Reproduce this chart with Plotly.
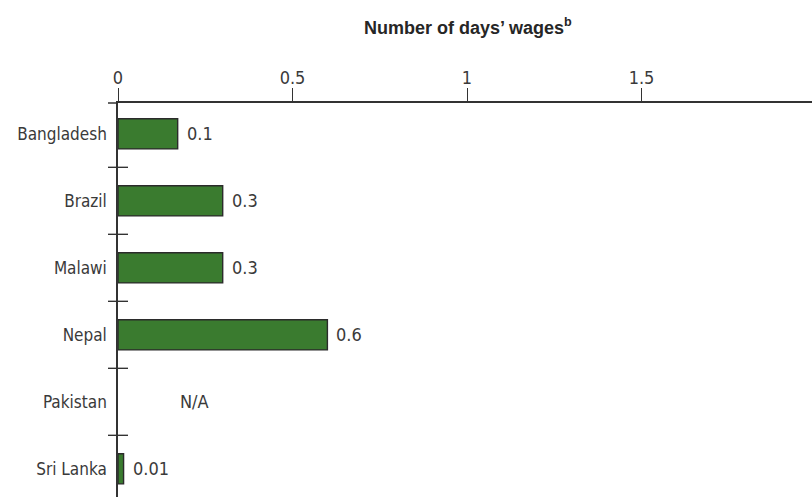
import plotly.graph_objects as go

countries = ["Bangladesh", "Brazil", "Malawi", "Nepal", "Pakistan", "Sri Lanka"]
days_wages = [0.171, 0.3, 0.3, 0.6, None, 0.016]
value_labels = ["0.1", "0.3", "0.3", "0.6", "N/A", "0.01"]
x_ticks = [0, 0.5, 1, 1.5, 2]
x_tick_labels = ["0", "0.5", "1", "1.5", "2"]

FONT = "DejaVu Sans Condensed, Liberation Sans Narrow, sans-serif"
TXT = "#3a3a3a"
LINE = "#333333"

fig = go.Figure()
fig.add_trace(go.Bar(
    y=countries, x=days_wages, orientation="h", width=0.45,
    marker=dict(color="#3a7b2f", line=dict(color="#2b2b2b", width=1.4)),
    hoverinfo="skip", showlegend=False,
))

annotations = []
for c, v, lab in zip(countries, days_wages, value_labels):
    if v is None:
        annotations.append(dict(x=0, y=c, xref="x", yref="y", text=lab, showarrow=False,
                                xanchor="center", xshift=76,
                                font=dict(family=FONT, size=18, color=TXT)))
    else:
        annotations.append(dict(x=v, y=c, xref="x", yref="y", text=lab, showarrow=False,
                                xanchor="left", xshift=7,
                                font=dict(family=FONT, size=18, color=TXT)))

annotations.append(dict(x=0.5, y=1, xref="paper", yref="paper", yshift=77, xshift=1,
                        yanchor="middle",
                        text="<b>Number of days’ wages<sup>b</sup></b>", showarrow=False,
                        font=dict(family="Liberation Sans, Arial, sans-serif", size=18, color="#262626")))

shapes = []
for i in range(1, len(countries)):
    shapes.append(dict(type="line", xref="paper", yref="y", xsizemode="pixel", xanchor=0,
                       x0=-10, x1=10, y0=i - 0.5, y1=i - 0.5,
                       line=dict(color=LINE, width=1.4)))
shapes.append(dict(type="line", xref="paper", yref="paper", xsizemode="pixel", xanchor=0,
                   x0=-10, x1=0, y0=1, y1=1, line=dict(color=LINE, width=1.5)))

fig.update_layout(
    width=816, height=505,
    margin=dict(l=118, r=0, t=103, b=0),
    plot_bgcolor="white", paper_bgcolor="white",
    font=dict(family=FONT, size=18, color=TXT),
    annotations=annotations, shapes=shapes,
    xaxis=dict(side="top", range=[0, 2], tickvals=x_ticks, ticktext=x_tick_labels,
               ticks="outside", ticklen=13, tickwidth=1.3, tickcolor=LINE,
               showline=True, linecolor=LINE, linewidth=1.5,
               showgrid=False, zeroline=False, ticklabelstandoff=-3,
               tickfont=dict(family=FONT, size=18, color=TXT)),
    yaxis=dict(type="category", categoryorder="array", categoryarray=countries,
               range=[5.54, -0.46], showline=True, linecolor=LINE, linewidth=1.5,
               ticks="", showgrid=False, zeroline=False, ticklabelstandoff=6,
               tickfont=dict(family=FONT, size=17, color=TXT)),
)

fig.write_html("out.html",
               config={"displayModeBar": False},
               post_script="document.documentElement.style.overflow='hidden';"
                           "document.body.style.overflow='hidden';"
                           "document.body.style.margin='0';")
